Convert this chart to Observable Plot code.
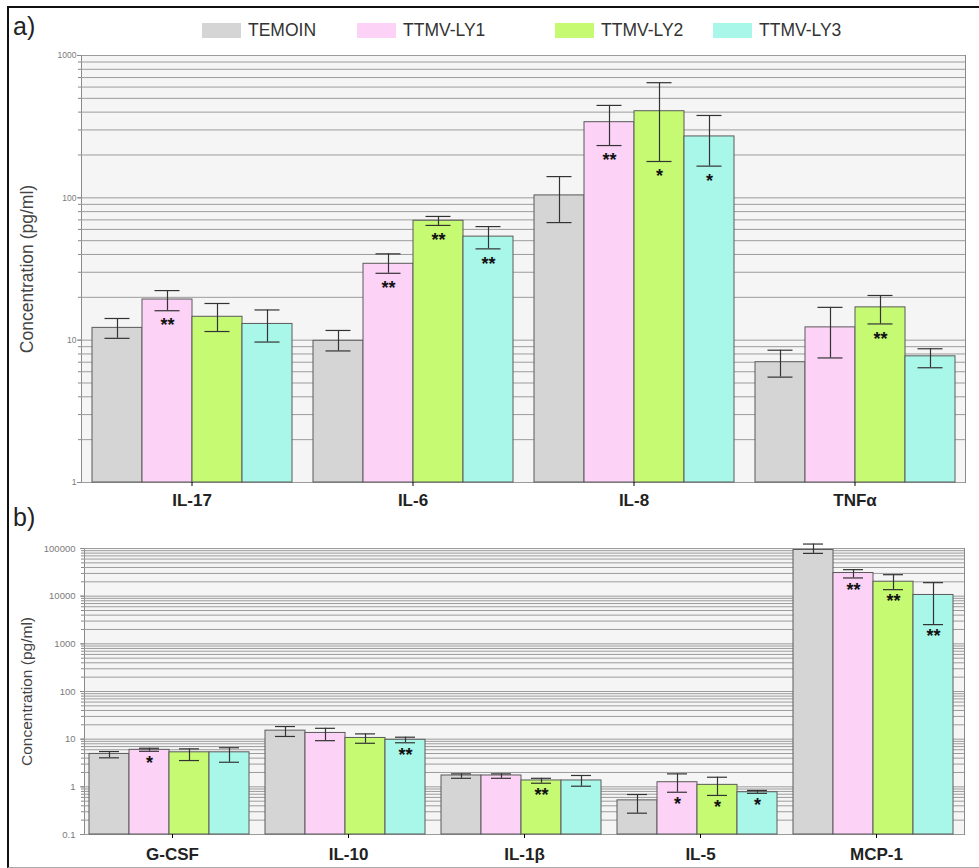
<!DOCTYPE html>
<html>
<head>
<meta charset="utf-8">
<script src="https://cdn.jsdelivr.net/npm/d3@7"></script>
<script src="https://cdn.jsdelivr.net/npm/@observablehq/plot@0.6"></script>
<style>
  html, body { margin: 0; padding: 0; background: #fff; }
  body { font-family: "Liberation Sans", Arial, sans-serif; }
  #fig { position: relative; width: 979px; height: 868px; overflow: hidden; }
  #border { position: absolute; left: 7px; top: 6px; width: 990px; height: 859px;
            border-left: 2px solid #111; border-top: 2px solid #111; border-bottom: 1px solid #aaa; }
  .plabel { position: absolute; left: 13px; font-size: 25px; color: #222; line-height: 1; }
  .leg { position: absolute; top: 20px; display: flex; align-items: center; font-size: 17.5px; color: #333; }
  .sw { width: 39px; height: 15px; margin-right: 7px; }
  #a { position: absolute; left: 0; top: 40px; }
  #b { position: absolute; left: 0; top: 520px; }
</style>
</head>
<body>
<div id="fig">
  <div id="border"></div>
  <div class="plabel" style="top:14px">a)</div>
  <div class="plabel" style="top:505px">b)</div>
  <div id="legend"></div>
  <div id="a"></div>
  <div id="b"></div>
</div>
<script>
// ---------- data ----------
const groups = ["TEMOIN", "TTMV-LY1", "TTMV-LY2", "TTMV-LY3"];
const groupColors = ["#d5d5d5", "#fdd2f7", "#c5fa72", "#a9f7e9"];

// Panel a (rows = groups, columns = cytokines)
const cytokinesA = ["IL-17", "IL-6", "IL-8", "TNFα"];
const meanA = [
  [12.2, 9.9, 104, 7.0],
  [19.3, 34.4, 340, 12.3],
  [14.6, 69, 406, 17.0],
  [13.0, 53.4, 270, 7.7]
];
const lowA = [
  [10.3, 8.4, 67, 5.5],
  [16.1, 29.5, 233, 7.5],
  [11.5, 64, 180, 13.0],
  [9.7, 43.8, 167, 6.4]
];
const highA = [
  [14.2, 11.7, 141, 8.5],
  [22.3, 40.4, 446, 17.0],
  [18.1, 74, 644, 20.6],
  [16.3, 62.8, 379, 8.7]
];
const starsA = [
  ["", "", "", ""],
  ["**", "**", "**", ""],
  ["", "**", "*", "**"],
  ["", "**", "*", ""]
];
const ticksA = [1, 10, 100, 1000];

// Panel b
const cytokinesB = ["G-CSF", "IL-10", "IL-1β", "IL-5", "MCP-1"];
const meanB = [
  [4.9, 15.1, 1.73, 0.52, 93000],
  [5.97, 13.5, 1.73, 1.25, 30600],
  [5.3, 10.6, 1.36, 1.10, 20100],
  [5.3, 9.7, 1.36, 0.77, 10600]
];
const lowB = [
  [4.06, 11.4, 1.51, 0.28, 79000],
  [5.57, 9.3, 1.51, 0.77, 24100],
  [3.56, 8.2, 1.19, 0.66, 13700],
  [3.28, 8.4, 1.03, 0.73, 2530]
];
const highB = [
  [5.5, 18.4, 1.87, 0.69, 124000],
  [6.45, 16.9, 1.87, 1.87, 36000],
  [6.26, 12.9, 1.51, 1.59, 28200],
  [6.6, 11.0, 1.73, 0.84, 19200]
];
const starsB = [
  ["", "", "", "", ""],
  ["*", "", "", "*", "**"],
  ["", "", "**", "*", "**"],
  ["", "**", "", "*", "**"]
];
const ticksB = [0.1, 1, 10, 100, 1000, 10000, 100000];

const yLabel = "Concentration (pg/ml)";

// ---------- build tables ----------
function table(cyt, mean, low, high, stars) {
  const out = [];
  groups.forEach((g, i) => cyt.forEach((c, j) => out.push({
    cytokine: c, group: g, value: mean[i][j], low: low[i][j], high: high[i][j], star: stars[i][j]
  })));
  return out;
}
function minorTicks(ticks) {
  const m = [];
  ticks.slice(0, -1).forEach(t => { for (let k = 1; k < 10; k++) m.push(+(k * t).toPrecision(6)); });
  m.push(ticks[ticks.length - 1]);
  return m;
}

// ---------- legend ----------
const legendX = [202, 357, 555, 713];
const legend = document.getElementById("legend");
groups.forEach((g, i) => {
  const d = document.createElement("div");
  d.className = "leg";
  d.style.left = legendX[i] + "px";
  d.innerHTML = `<div class="sw" style="background:${groupColors[i]}"></div><span>${g}</span>`;
  legend.appendChild(d);
});

// ---------- chart ----------
function chart(o) {
  const data = table(o.cyt, o.mean, o.low, o.high, o.stars);
  const minor = minorTicks(o.ticks);
  return Plot.plot({
    width: 979, height: o.height,
    marginTop: o.marginTop, marginBottom: o.marginBottom,
    marginLeft: o.marginLeft, marginRight: o.marginRight,
    style: {fontFamily: "Liberation Sans, Arial, sans-serif", background: "transparent", overflow: "visible"},
    fx: {domain: o.cyt, padding: 0, label: null},
    x: {domain: groups, paddingInner: 0, paddingOuter: o.xPadOut, align: o.xAlign, axis: null},
    y: {type: "log", domain: [o.ticks[0], o.ticks[o.ticks.length - 1]]},
    color: {domain: groups, range: groupColors},
    marks: [
      Plot.frame({fill: "#f5f5f5", stroke: "#8a8a8a", facet: "super"}),
      Plot.ruleY(minor, {stroke: "#9c9c9c", strokeWidth: 1}),
      Plot.axisY({ticks: minor, tickFormat: () => "", tickSize: 3, label: null, stroke: "#888"}),
      Plot.axisY({ticks: o.ticks, tickFormat: d => String(d), tickSize: 4, tickPadding: o.tickPad,
                  fontSize: o.tickFont, fill: "#7a7a7a", stroke: "#888", label: null}),
      Plot.text([yLabel], {text: d => d, frameAnchor: "left", textAnchor: "middle", rotate: -90, dx: o.labelDx,
                  fontSize: o.labelFont, fill: "#444", facet: "super"}),
      Plot.barY(data, {fx: "cytokine", x: "group", y1: o.ticks[0], y2: "value", fill: "group",
                  stroke: "#5a5a5a", strokeWidth: 1}),
      Plot.ruleX(data, {fx: "cytokine", x: "group", y1: "low", y2: "high", stroke: "#333", strokeWidth: 1.2}),
      Plot.tickY(data, {fx: "cytokine", x: "group", y: "low", insetLeft: o.cap, insetRight: o.cap, stroke: "#333", strokeWidth: 1.2}),
      Plot.tickY(data, {fx: "cytokine", x: "group", y: "high", insetLeft: o.cap, insetRight: o.cap, stroke: "#333", strokeWidth: 1.2}),
      Plot.text(data, {fx: "cytokine", x: "group", y: "low", text: "star", dy: o.starDy,
                  fontSize: 18, fontWeight: "bold", fill: "#111"}),
      Plot.axisFx({anchor: "bottom", tickSize: 4, tickPadding: o.fxPad, fontSize: 17, fontWeight: "bold",
                  fill: "#222", label: null})
    ]
  });
}

document.getElementById("a").appendChild(chart({
  cyt: cytokinesA, mean: meanA, low: lowA, high: highA, stars: starsA, ticks: ticksA,
  height: 472, marginTop: 15, marginBottom: 30, marginLeft: 81, marginRight: 14,
  xPadOut: 0.199, xAlign: 0.5, tickFont: 8.5, tickPad: 1,
  labelFont: 17.5, labelDx: -54, cap: 12.5, starDy: 15, fxPad: 7
}));

document.getElementById("b").appendChild(chart({
  cyt: cytokinesB, mean: meanB, low: lowB, high: highB, stars: starsB, ticks: ticksB,
  height: 344, marginTop: 28, marginBottom: 30, marginLeft: 82, marginRight: 14,
  xPadOut: 0.194, xAlign: 0.32, tickFont: 9.5, tickPad: 5,
  labelFont: 15.5, labelDx: -57, cap: 10, starDy: 12, fxPad: 9
}));
</script>
</body>
</html>
